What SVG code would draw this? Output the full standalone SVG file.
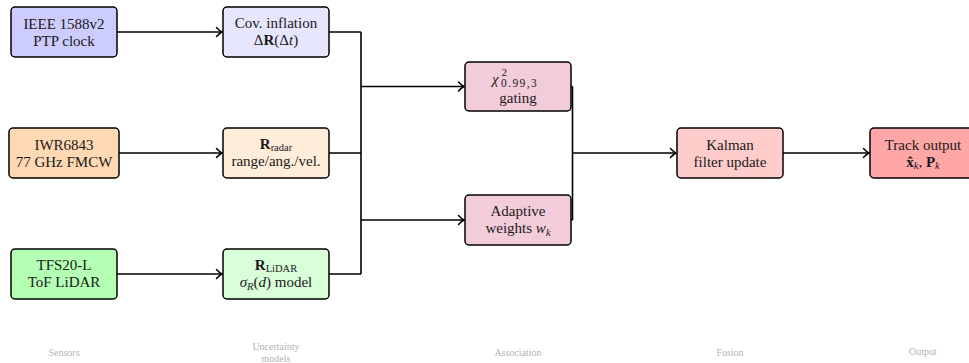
<svg xmlns="http://www.w3.org/2000/svg" width="969" height="363" viewBox="0 0 969 363">
<style>
.box{stroke:#000;stroke-width:1.5}
.t{font-family:"Liberation Serif","Times New Roman",serif;font-size:15px;fill:#1a1a1a;text-anchor:middle}
.sub{font-size:10.5px}
.i{font-style:italic}
.b{font-weight:bold}
.lbl{font-family:"Liberation Serif","Times New Roman",serif;font-size:10px;fill:#b3b3b3;text-anchor:middle}
.c{fill:none;stroke:#000;stroke-width:1.6}
</style>
<defs>
<marker id="arr" markerWidth="10" markerHeight="12" refX="8" refY="6" orient="auto" markerUnits="userSpaceOnUse">
<path d="M2.5,1.5 Q5.5,4.8 8,6 Q5.5,7.2 2.5,10.5" fill="none" stroke="#000" stroke-width="1.5" stroke-linecap="round"/>
</marker>
</defs>
<rect width="969" height="363" fill="#fff"/>

<g id="connectors">
<path class="c" d="M117,32 H222" marker-end="url(#arr)"/>
<path class="c" d="M119,153 H222" marker-end="url(#arr)"/>
<path class="c" d="M117,274 H222" marker-end="url(#arr)"/>
<path class="c" d="M329,32 H361 M329,153 H361 M329,274 H361 M361,32 V274"/>
<path class="c" d="M361,86.5 H464" marker-end="url(#arr)"/>
<path class="c" d="M361,220 H464" marker-end="url(#arr)"/>
<path class="c" d="M571,86.5 H572.5 M571,220 H572.5 M572.5,86.5 V220"/>
<path class="c" d="M572.5,153 H676" marker-end="url(#arr)"/>
<path class="c" d="M783,153 H869" marker-end="url(#arr)"/>
</g>

<g id="ieee">
<rect class="box" x="11" y="7" width="106" height="50" rx="4" fill="#ccccff"/>
<text class="t" x="64" y="29">IEEE 1588v2</text>
<text class="t" x="64" y="46">PTP clock</text>
</g>
<g id="cov">
<rect class="box" x="223" y="7" width="106" height="50" rx="4" fill="#e6e6ff"/>
<text class="t" x="276" y="28">Cov. inflation</text>
<text class="t" x="276" y="45">Δ<tspan class="b">R</tspan>(Δ<tspan class="i">t</tspan>)</text>
</g>

<g id="iwr">
<rect class="box" x="9" y="128" width="110" height="50" rx="4" fill="#ffd9b3"/>
<text class="t" x="64" y="149.5">IWR6843</text>
<text class="t" x="64" y="166.5">77 GHz FMCW</text>
</g>
<g id="rradar">
<rect class="box" x="223" y="128" width="106" height="50" rx="4" fill="#ffecd9"/>
<text class="t" x="276" y="148.5"><tspan class="b">R</tspan><tspan class="sub" dy="2">radar</tspan></text>
<text class="t" x="276" y="166">range/ang./vel.</text>
</g>

<g id="tfs">
<rect class="box" x="11" y="249" width="106" height="50" rx="4" fill="#b3ffb3"/>
<text class="t" x="64" y="270">TFS20-L</text>
<text class="t" x="64" y="287">ToF LiDAR</text>
</g>
<g id="rlidar">
<rect class="box" x="223" y="249" width="106" height="50" rx="4" fill="#d9ffd9"/>
<text class="t" x="276" y="269.5"><tspan class="b">R</tspan><tspan class="sub" dy="2">LiDAR</tspan></text>
<text class="t" x="276" y="287"><tspan class="i">σ</tspan><tspan class="sub i" dy="3">R</tspan><tspan dy="-3">(</tspan><tspan class="i">d</tspan>) model</text>
</g>

<g id="gating">
<rect class="box" x="465" y="62" width="106" height="49" rx="4" fill="#f2ccd9"/>
<text class="t" x="492" y="84" style="text-anchor:start"><tspan class="i">χ</tspan></text>
<text class="t" x="501.5" y="75.5" style="text-anchor:start;font-size:11px">2</text>
<text class="t" x="501" y="86.5" style="text-anchor:start;font-size:11.5px;letter-spacing:1.4px">0.99,3</text>
<text class="t" x="518" y="102.5">gating</text>
</g>
<g id="adaptive">
<rect class="box" x="465" y="195" width="106" height="50" rx="4" fill="#f2ccd9"/>
<text class="t" x="518" y="216">Adaptive</text>
<text class="t" x="518" y="233">weights <tspan class="i">w</tspan><tspan class="sub i" dy="2.5">k</tspan></text>
</g>

<g id="kalman">
<rect class="box" x="677" y="128" width="106" height="50" rx="4" fill="#ffcccc"/>
<text class="t" x="730" y="149.5">Kalman</text>
<text class="t" x="730" y="166.5">filter update</text>
</g>
<g id="track">
<rect class="box" x="870" y="128" width="106" height="50" rx="4" fill="#ffa6a6"/>
<text class="t" x="923" y="149.5">Track output</text>
<text class="t" x="923" y="166.5"><tspan class="b">x̂</tspan><tspan class="sub i" dy="2.5">k</tspan><tspan dy="-2.5">, </tspan><tspan class="b">P</tspan><tspan class="sub i" dy="2.5">k</tspan></text>
</g>

<g id="stage-labels">
<text class="lbl" x="64" y="356">Sensors</text>
<text class="lbl" x="276" y="350">Uncertainty</text>
<text class="lbl" x="276" y="362">models</text>
<text class="lbl" x="518" y="356">Association</text>
<text class="lbl" x="730" y="356">Fusion</text>
<text class="lbl" x="923" y="355">Output</text>
</g>
</svg>
